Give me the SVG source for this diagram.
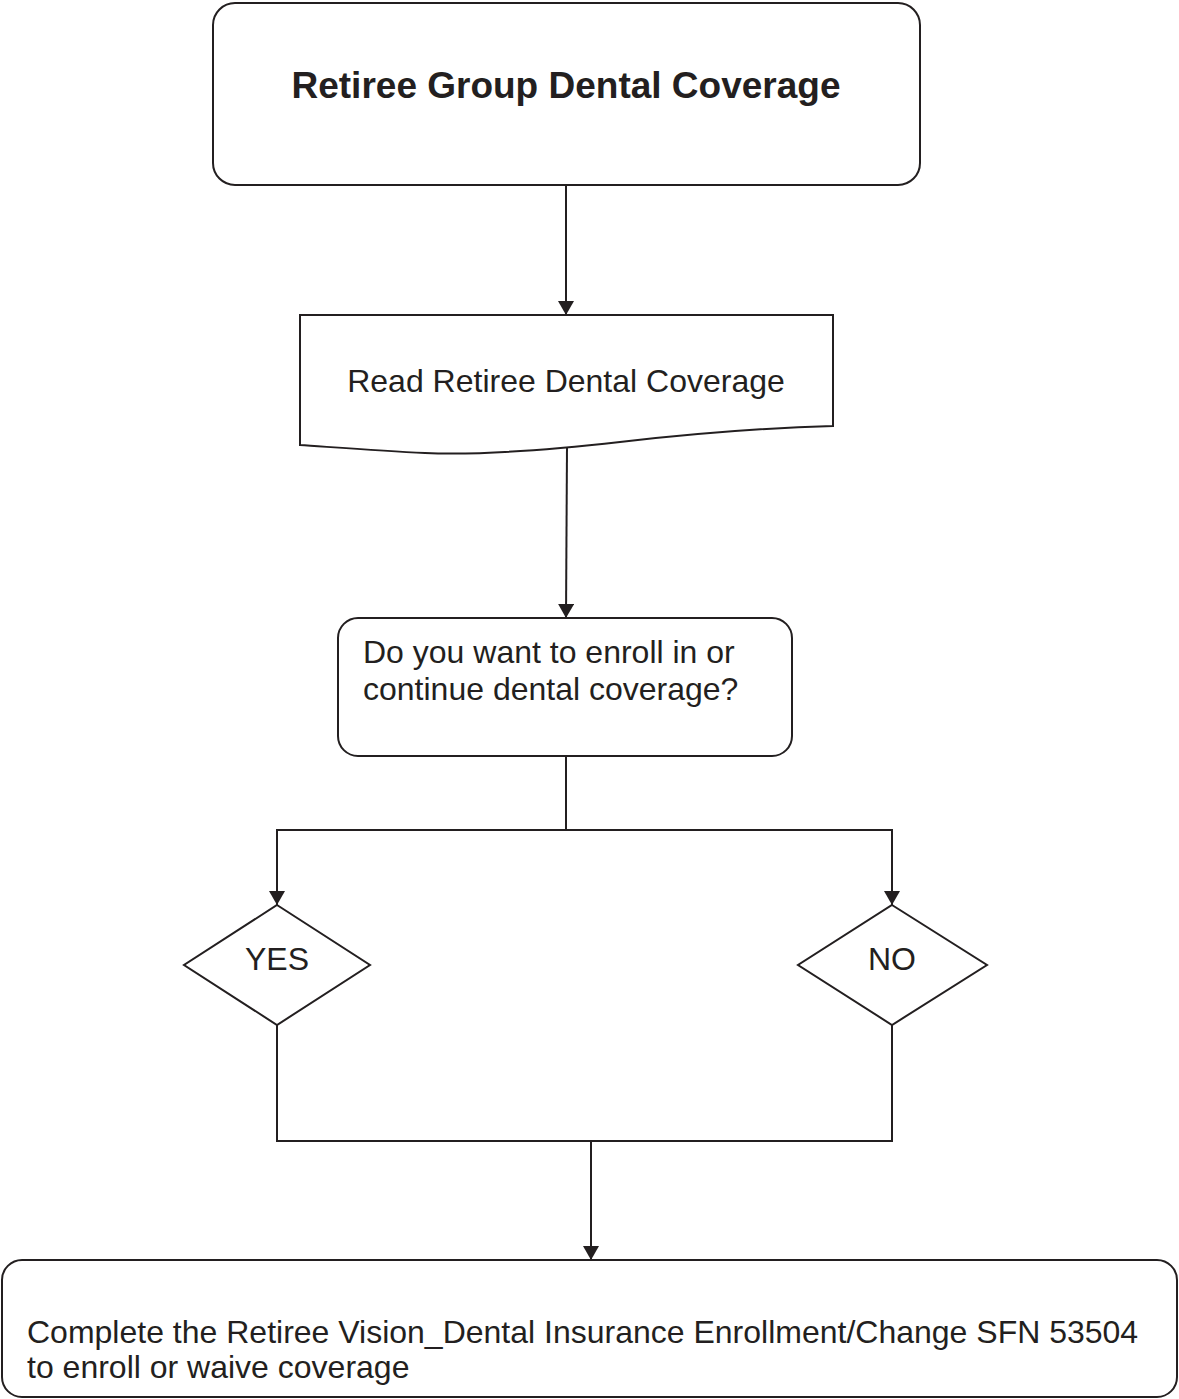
<svg xmlns="http://www.w3.org/2000/svg" width="1179" height="1399" viewBox="0 0 1179 1399">
  <style>
    .shape { fill: #ffffff; stroke: #231f20; stroke-width: 2; }
    .wire { fill: none; stroke: #231f20; stroke-width: 2; }
    .label { font-family: "Liberation Sans", Arial, sans-serif; fill: #231f20; }
    .title { font-size: 37px; font-weight: bold; }
    .body { font-size: 32px; }
  </style>
  <defs>
    <marker id="arrow" viewBox="0 0 14 16" refX="14" refY="8" markerWidth="14" markerHeight="16" markerUnits="userSpaceOnUse" orient="auto">
      <path d="M0,0 L14,8 L0,16 Z" fill="#231f20"/>
    </marker>
  </defs>
  <rect width="1179" height="1399" fill="#ffffff"/>

  <g id="connectors">
    <line class="wire" x1="566" y1="185" x2="566" y2="315" marker-end="url(#arrow)"/>
    <line class="wire" x1="567" y1="446" x2="566" y2="618" marker-end="url(#arrow)"/>
    <polyline class="wire" points="566,756 566,830"/>
    <polyline class="wire" points="566,830 277,830 277,905" marker-end="url(#arrow)"/>
    <polyline class="wire" points="566,830 892,830 892,905" marker-end="url(#arrow)"/>
    <polyline class="wire" points="277,1025 277,1141 892,1141 892,1025"/>
    <line class="wire" x1="591" y1="1141" x2="591" y2="1260" marker-end="url(#arrow)"/>
  </g>

  <g id="start">
    <rect class="shape" x="213" y="3" width="707" height="182" rx="22" ry="22"/>
    <text class="label title" x="566" y="98" text-anchor="middle">Retiree Group Dental Coverage</text>
  </g>

  <g id="read-document">
    <path class="shape" d="M300,315 L833,315 L833,426 C760,428 690,434 620,442 C540,451 470,455 425,453 C380,451 330,447 300,445 Z"/>
    <text class="label body" x="566" y="392" text-anchor="middle">Read Retiree Dental Coverage</text>
  </g>

  <g id="question">
    <rect class="shape" x="338" y="618" width="454" height="138" rx="20" ry="20"/>
    <text class="label body" x="363" y="663">Do you want to enroll in or</text>
    <text class="label body" x="363" y="700">continue dental coverage?</text>
  </g>

  <g id="yes">
    <polygon class="shape" points="277,905 370,965 277,1025 184,965"/>
    <text class="label body" x="277" y="970" text-anchor="middle">YES</text>
  </g>

  <g id="no">
    <polygon class="shape" points="892,905 987,965 892,1025 798,965"/>
    <text class="label body" x="892" y="970" text-anchor="middle">NO</text>
  </g>

  <g id="complete-form">
    <rect class="shape" x="2" y="1260" width="1175" height="137" rx="20" ry="20"/>
    <text class="label body" x="27" y="1343">Complete the Retiree Vision_Dental Insurance Enrollment/Change SFN 53504</text>
    <text class="label body" x="27" y="1378">to enroll or waive coverage</text>
  </g>
</svg>
